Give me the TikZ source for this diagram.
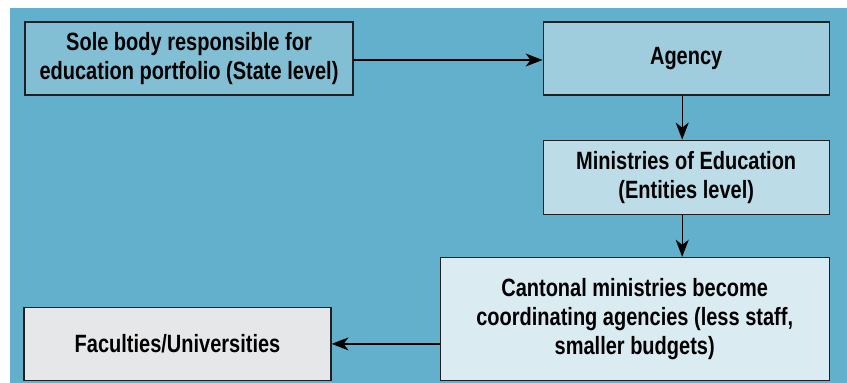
\documentclass[tikz,border=0pt]{standalone}
\usepackage{fontspec}
\setmainfont{Liberation Sans}[FakeStretch=0.8]
\usetikzlibrary{positioning,arrows.meta}

\definecolor{bgblue}{HTML}{62B0CB}
\definecolor{stateblue}{HTML}{82BFD5}
\definecolor{agencyblue}{HTML}{A0CDDD}
\definecolor{entityblue}{HTML}{BCDDE8}
\definecolor{cantonblue}{HTML}{DAEBF2}
\definecolor{facgray}{HTML}{E6E7E9}
\definecolor{edge}{HTML}{231F20}

\tikzset{
  levelbox/.style={draw=edge, line width=1.2pt, align=center, inner sep=0pt,
    font=\fontsize{25}{29}\selectfont\bfseries, text=black},
  flow/.style={->, line width=1.2pt, draw=black}
}

\begin{document}
\begin{tikzpicture}[>={Stealth[length=17pt,width=13pt,inset=5pt]}]
% canvas, 1pt per pixel
\useasboundingbox (0,0) rectangle (847pt,-383pt);
\fill[bgblue] (10pt,-8pt) rectangle (847pt,-383pt);

\node (state) [levelbox, fill=stateblue, minimum width=328pt, minimum height=73pt]
  at (189pt,-58.5pt) {Sole body responsible for\\education portfolio (State level)};
\node (agency) [levelbox, fill=agencyblue, minimum width=286pt, minimum height=73pt,
  right=189pt of state] {Agency};

    \node (ministries) [levelbox, fill=entityblue, minimum width=286pt, minimum height=74pt,
      below=44pt of agency] {Ministries of Education\\(Entities level)};
    \node (cantonal) [levelbox, fill=cantonblue, minimum width=389pt, minimum height=123pt,
      below left=42pt and 0pt of ministries.south east]
      {Cantonal ministries become\\coordinating agencies (less staff,\\smaller budgets)};
    \node (faculties) [levelbox, fill=facgray, minimum width=307pt, minimum height=73pt,
      above left=0pt and 108pt of cantonal.south west] {Faculties/Universities};

    \draw[flow] ([yshift=-1.5pt]state.east) -- ([yshift=-1.5pt]agency.west);
    \draw[flow] ([xshift=-4pt]agency.south) -- ([xshift=-4pt]ministries.north);
    \draw[flow] ([xshift=-4pt]ministries.south) -- ([xshift=-4pt]ministries.south |- cantonal.north);
    \draw[flow] (cantonal.west |- faculties.east) -- (faculties.east);

\end{tikzpicture}
\end{document}
